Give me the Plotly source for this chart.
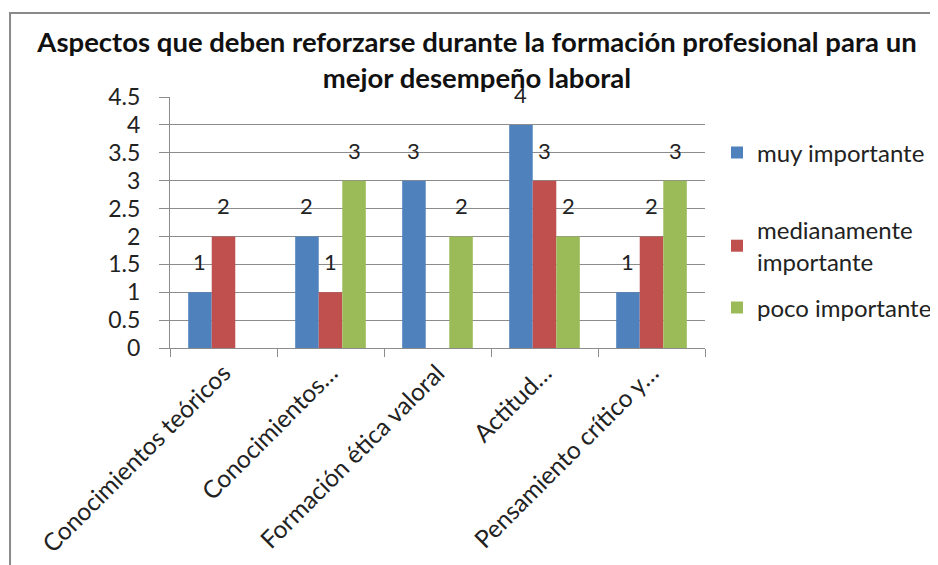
import plotly.graph_objects as go

categories = ['Conocimientos teóricos', 'Conocimientos…', 'Formación ética valoral',
              'Actitud…', 'Pensamiento crítico y…']
muy_importante = [1, 2, 3, 4, 1]
medianamente_importante = [2, 1, 0, 3, 2]
poco_importante = [0, 3, 2, 2, 3]

series = [
    ('muy importante', muy_importante, '#4F81BD'),
    ('medianamente<br>importante', medianamente_importante, '#C0504D'),
    ('poco importante', poco_importante, '#9BBB59'),
]

FONT = 'Lato'
BARGAP = 0.34
PLOT_W = 535

fig = go.Figure()
legend_names = ['legend', 'legend2', 'legend3']
bar_px = PLOT_W / len(categories) * (1 - BARGAP) / len(series)
for i, (name, vals, color) in enumerate(series):
    fig.add_trace(go.Bar(
        x=categories, y=vals, name=name, marker_color=color,
        marker_line_width=0, legend=legend_names[i],
    ))
    # data labels above each bar (Excel hides the zero ones)
    for cat, v in zip(categories, vals):
        if v:
            fig.add_annotation(x=cat, y=v, text=str(v), showarrow=False,
                               xshift=(i - 1) * bar_px, yshift=15, yanchor='bottom',
                               font=dict(size=22, color='#222', family=FONT))

# page body has an 8px margin, so container positions are shifted back by 8
legend_style = dict(font=dict(size=24, family=FONT), xref='container', yref='container',
                    xanchor='left', yanchor='middle', bgcolor='rgba(0,0,0,0)')
legend_y = [145, 238, 300]

fig.update_layout(
    width=938, height=565,
    margin=dict(l=162, r=241, t=89, b=225),
    paper_bgcolor='white', plot_bgcolor='white',
    font=dict(family=FONT, color='#222'),
    title=dict(
        text='<b>Aspectos que deben reforzarse durante la formación profesional para un<br>mejor desempeño laboral</b>',
        x=0.5, xanchor='center', y=1 - 44 / 565, yanchor='top',
        font=dict(size=27.5, family=FONT, color='#111'),
    ),
    barmode='group', bargap=BARGAP, bargroupgap=0,
    legend=dict(x=709 / 938, y=1 - legend_y[0] / 565, **legend_style),
    legend2=dict(x=709 / 938, y=1 - legend_y[1] / 565, **legend_style),
    legend3=dict(x=709 / 938, y=1 - legend_y[2] / 565, **legend_style),
    showlegend=True,
)

fig.update_yaxes(
    range=[0, 4.5], dtick=0.5, showgrid=True, gridcolor='#8c8c8c', gridwidth=1,
    showline=True, linecolor='#8c8c8c', ticks='outside', ticklen=10, tickcolor='#8c8c8c',
    tickfont=dict(size=23), zeroline=False, automargin=False, ticklabelstandoff=14,
)
fig.update_xaxes(
    showline=True, linecolor='#8c8c8c', ticks='outside', ticklen=8, tickcolor='#8c8c8c',
    tickson='boundaries', tickangle=-45, tickfont=dict(size=24.5), automargin=False,
)

# outer chart border (Excel chart area)
fig.add_shape(type='rect', xref='paper', yref='paper',
              x0=-0.299, x1=1.6, y0=-1.2, y1=1.335,
              line=dict(color='#8a8a8a', width=2), layer='below')

fig.write_html('out.html')
